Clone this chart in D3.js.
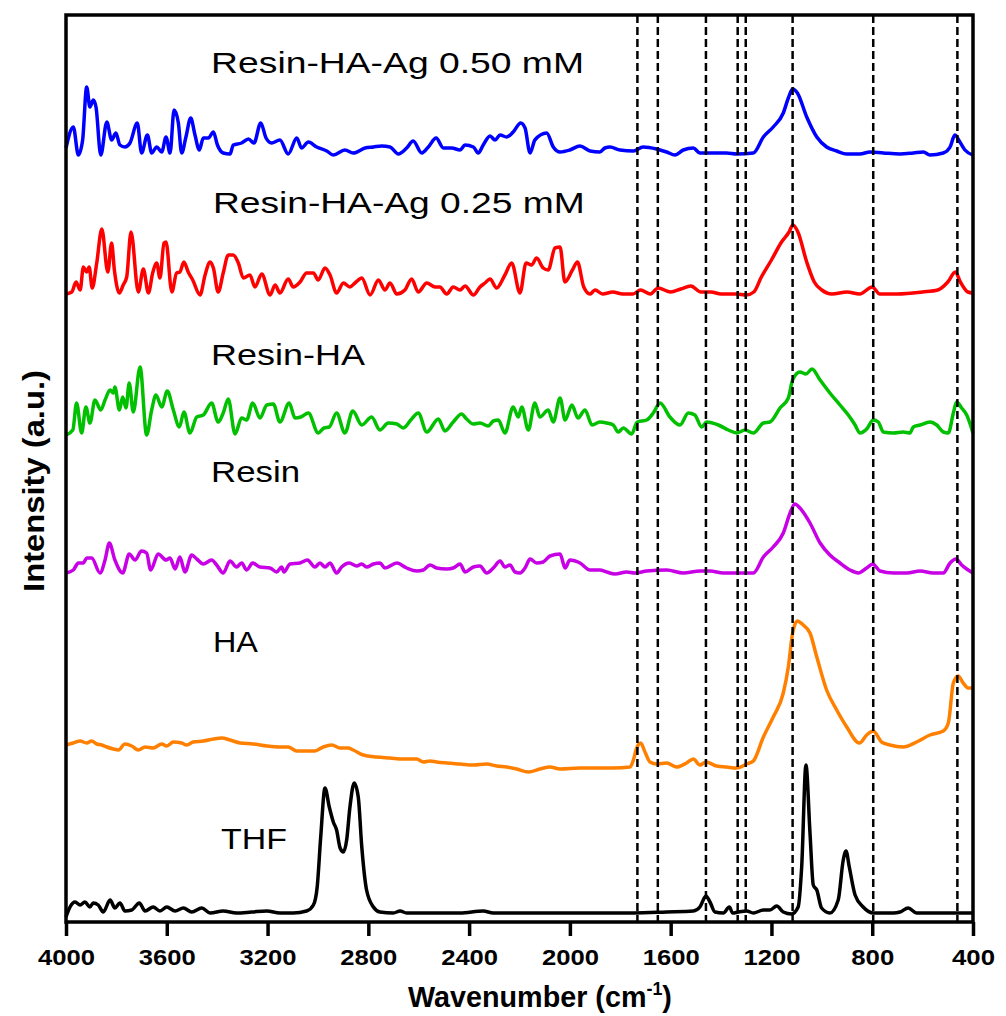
<!DOCTYPE html>
<html>
<head>
<meta charset="utf-8">
<script src="https://cdn.jsdelivr.net/npm/d3@7"></script>
<style>
  body { margin: 0; background: #fff; }
  text { font-family: "Liberation Sans", Arial, Helvetica, sans-serif; }
</style>
</head>
<body>
<svg id="chart" width="1006" height="1016"></svg>
<script>
// x ticks and reference band positions (cm-1)
const xTicks = [4000, 3600, 3200, 2800, 2400, 2000, 1600, 1200, 800, 400];
const peakLines = [1732, 1651, 1460, 1334, 1302, 1116, 796, 462];

// spectra, [wavenumber, intensity (a.u., stacked)]
const ag050 = [[4000,774],[3971,795],[3951,767],[3934,782],[3918,835],[3905,815],[3892,822],[3881,815],[3862,767],[3838,800],[3819,782],[3802,789],[3786,777],[3766,775],[3746,779],[3717,799],[3700,769],[3677,787],[3660,769],[3640,775],[3620,770],[3603,785],[3587,769],[3571,812],[3554,799],[3541,769],[3524,785],[3505,804],[3488,787],[3471,772],[3455,784],[3435,784],[3415,790],[3399,777],[3376,769],[3349,768],[3336,777],[3303,779],[3276,783],[3254,779],[3227,799],[3206,784],[3184,779],[3151,782],[3118,768],[3084,784],[3065,774],[3038,780],[3005,775],[2965,771],[2939,767],[2893,772],[2860,769],[2813,774],[2780,775],[2747,776],[2714,775],[2681,768],[2648,774],[2622,781],[2588,769],[2562,775],[2531,784],[2502,774],[2469,774],[2436,772],[2416,777],[2383,775],[2364,769],[2344,777],[2317,786],[2297,782],[2277,787],[2251,785],[2225,790],[2195,799],[2178,794],[2158,769],[2139,782],[2092,789],[2066,775],[2039,770],[2000,772],[1960,776],[1920,771],[1881,770],[1861,774],[1841,775],[1801,772],[1748,771],[1709,775],[1656,773],[1616,770],[1583,767],[1550,772],[1510,774],[1484,769],[1431,769],[1378,769],[1338,768],[1272,769],[1232,785],[1193,795],[1153,809],[1133,824],[1116,833],[1097,829],[1060,805],[1020,785],[981,775],[941,771],[901,768],[849,768],[809,770],[756,769],[690,768],[637,769],[597,770],[571,767],[518,769],[491,775],[472,787],[452,780],[432,772],[400,767]];

const ag025 = [[4000,628],[3977,630],[3960,640],[3944,632],[3931,655],[3918,650],[3908,655],[3896,634],[3878,659],[3858,693],[3834,650],[3819,679],[3808,652],[3788,629],[3773,637],[3759,645],[3742,690],[3713,630],[3693,653],[3673,629],[3656,649],[3640,659],[3627,644],[3611,679],[3603,680],[3580,630],[3561,649],[3548,650],[3532,660],[3515,650],[3497,642],[3468,627],[3448,647],[3428,660],[3415,654],[3396,630],[3376,649],[3356,667],[3336,667],[3316,659],[3296,644],[3270,647],[3250,635],[3223,648],[3190,627],[3170,637],[3151,629],[3118,643],[3098,635],[3071,640],[3045,649],[3018,649],[2999,642],[2972,654],[2952,647],[2926,629],[2899,639],[2873,635],[2853,639],[2826,644],[2793,627],[2760,642],[2734,632],[2714,639],[2687,628],[2655,632],[2628,643],[2602,630],[2568,639],[2535,635],[2516,635],[2489,628],[2463,635],[2436,632],[2416,636],[2383,627],[2357,635],[2337,639],[2317,643],[2291,634],[2258,647],[2231,659],[2198,629],[2174,659],[2152,657],[2132,664],[2106,654],[2086,652],[2059,674],[2039,675],[2020,640],[1990,652],[1970,660],[1945,635],[1920,628],[1900,632],[1870,628],[1830,630],[1790,628],[1750,628],[1720,632],[1680,628],[1650,634],[1600,630],[1560,633],[1520,636],[1480,630],[1440,630],[1400,628],[1340,628],[1300,627],[1270,630],[1240,645],[1200,662],[1160,680],[1130,690],[1115,697],[1095,690],[1060,660],[1030,640],[1000,632],[960,628],[900,630],[850,628],[800,635],[770,628],[700,628],[600,630],[540,632],[500,640],[470,650],[450,640],[420,630],[400,629]];

const resinHA = [[4000,487],[3973,492],[3958,519],[3938,489],[3921,515],[3905,499],[3885,522],[3862,512],[3845,522],[3825,532],[3812,529],[3806,535],[3788,512],[3775,525],[3762,514],[3749,539],[3733,510],[3706,555],[3680,487],[3660,512],[3643,527],[3620,515],[3598,531],[3574,512],[3550,495],[3532,510],[3508,489],[3481,505],[3455,507],[3422,519],[3396,500],[3376,509],[3356,523],[3329,488],[3303,504],[3283,502],[3259,519],[3230,504],[3203,517],[3177,518],[3151,500],[3114,519],[3091,504],[3068,505],[3038,509],[2999,489],[2976,494],[2955,495],[2926,509],[2893,489],[2862,511],[2826,497],[2787,505],[2754,492],[2721,499],[2687,498],[2661,494],[2628,503],[2602,509],[2568,490],[2522,503],[2496,491],[2463,500],[2430,508],[2410,503],[2383,498],[2357,499],[2324,496],[2304,501],[2284,502],[2258,489],[2225,515],[2205,505],[2191,515],[2165,492],[2139,519],[2119,505],[2086,512],[2066,500],[2039,524],[2019,502],[1992,517],[1968,504],[1940,512],[1912,497],[1881,500],[1854,499],[1828,497],[1808,490],[1788,494],[1755,488],[1733,500],[1695,502],[1669,509],[1642,519],[1603,505],[1563,497],[1530,509],[1504,507],[1477,495],[1457,500],[1411,497],[1371,492],[1338,489],[1305,492],[1272,489],[1232,499],[1206,500],[1166,514],[1133,524],[1116,542],[1087,550],[1063,548],[1039,553],[1007,542],[968,529],[928,517],[895,507],[868,497],[849,489],[822,493],[796,502],[776,500],[756,490],[716,489],[677,490],[650,489],[637,495],[610,497],[571,500],[544,497],[518,490],[498,489],[478,509],[465,520],[445,514],[425,507],[400,489]];

const resin = [[4000,349],[3971,352],[3951,359],[3931,359],[3918,364],[3898,364],[3865,349],[3845,362],[3828,379],[3806,362],[3775,349],[3749,368],[3726,362],[3700,371],[3680,369],[3664,352],[3634,368],[3603,362],[3587,364],[3567,353],[3548,365],[3528,350],[3501,367],[3481,363],[3455,358],[3422,362],[3402,357],[3376,349],[3349,361],[3323,355],[3303,359],[3283,352],[3259,359],[3230,355],[3190,354],[3164,350],[3144,355],[3135,350],[3111,358],[3071,359],[3042,362],[3012,355],[2992,359],[2972,355],[2952,359],[2926,349],[2906,355],[2876,359],[2846,356],[2826,358],[2807,355],[2780,358],[2754,359],[2734,354],[2687,359],[2648,354],[2608,351],[2582,352],[2555,357],[2529,354],[2489,353],[2463,354],[2436,358],[2416,350],[2383,355],[2357,356],[2330,349],[2304,354],[2277,361],[2258,355],[2238,357],[2218,350],[2198,349],[2178,354],[2158,363],[2132,359],[2106,360],[2079,366],[2039,368],[2019,354],[2000,362],[1960,359],[1920,352],[1881,352],[1854,350],[1821,348],[1775,350],[1742,349],[1695,351],[1616,352],[1550,349],[1484,351],[1444,351],[1391,349],[1338,349],[1272,349],[1232,365],[1193,375],[1153,389],[1126,409],[1107,418],[1087,414],[1047,399],[1007,379],[968,367],[928,359],[888,352],[855,349],[822,354],[798,358],[769,351],[716,349],[663,349],[610,351],[558,349],[518,349],[491,359],[468,363],[445,357],[425,353],[400,349]];

const ha = [[4000,177],[3971,179],[3944,181],[3918,179],[3898,181],[3878,178],[3858,177],[3838,175],[3812,173],[3792,172],[3766,178],[3739,176],[3713,172],[3686,175],[3654,174],[3620,178],[3600,176],[3574,180],[3541,179],[3521,177],[3495,180],[3455,181],[3415,183],[3382,184],[3349,182],[3309,179],[3257,178],[3203,176],[3151,175],[3118,175],[3084,171],[3045,171],[3012,171],[2979,175],[2945,177],[2912,174],[2880,174],[2860,172],[2820,167],[2767,165],[2714,164],[2661,163],[2608,163],[2582,160],[2555,161],[2529,160],[2489,159],[2436,158],[2383,157],[2330,158],[2291,156],[2251,155],[2211,153],[2165,150],[2119,153],[2079,155],[2039,153],[1960,154],[1881,154],[1828,154],[1761,155],[1748,162],[1735,174],[1719,179],[1702,170],[1682,160],[1656,158],[1616,159],[1576,155],[1537,159],[1510,163],[1484,157],[1460,160],[1417,156],[1378,155],[1338,154],[1298,158],[1272,161],[1232,185],[1193,205],[1153,229],[1133,255],[1116,289],[1097,301],[1074,297],[1047,289],[1020,265],[981,232],[941,212],[901,195],[851,179],[822,187],[796,191],[763,180],[730,177],[677,175],[624,180],[571,187],[518,191],[498,199],[478,239],[459,246],[439,239],[419,234],[400,234]];

const thf = [[4000,5],[3984,15],[3964,20],[3944,17],[3925,20],[3905,15],[3892,19],[3872,17],[3852,10],[3825,22],[3806,14],[3786,19],[3766,11],[3739,12],[3709,19],[3686,11],[3654,15],[3627,11],[3600,15],[3567,11],[3534,14],[3501,10],[3461,14],[3428,9],[3376,11],[3323,9],[3263,10],[3203,11],[3151,9],[3098,9],[3045,11],[3018,17],[3003,35],[2989,85],[2972,134],[2955,115],[2939,100],[2926,92],[2912,74],[2899,70],[2886,82],[2873,115],[2856,139],[2840,125],[2826,75],[2807,32],[2780,15],[2754,10],[2701,9],[2674,11],[2648,9],[2568,9],[2436,9],[2344,11],[2304,9],[2172,9],[2039,9],[1881,9],[1748,9],[1616,10],[1510,11],[1484,15],[1460,26],[1444,20],[1424,10],[1391,9],[1367,15],[1354,9],[1332,10],[1298,11],[1272,9],[1232,12],[1206,12],[1179,16],[1153,10],[1120,8],[1094,15],[1080,55],[1063,157],[1047,89],[1034,37],[1020,32],[1001,14],[968,9],[935,22],[915,62],[904,71],[891,55],[868,27],[836,15],[796,9],[716,9],[690,10],[657,14],[624,9],[558,9],[478,9],[400,9]];

const series = [
  { name: 'Resin-HA-Ag 0.50 mM', color: '#0000ff', data: ag050 },
  { name: 'Resin-HA-Ag 0.25 mM', color: '#ff0000', data: ag025 },
  { name: 'Resin-HA', color: '#00c000', data: resinHA },
  { name: 'Resin', color: '#c800e6', data: resin },
  { name: 'HA', color: '#ff8000', data: ha },
  { name: 'THF', color: '#000000', data: thf }
];

// label anchors in data units + measured text widths
const labels = [
  { text: 'Resin-HA-Ag 0.50 mM', wn: 3424, at: 849, width: 373 },
  { text: 'Resin-HA-Ag 0.25 mM', wn: 3417, at: 709, width: 372 },
  { text: 'Resin-HA', wn: 3424, at: 557, width: 154 },
  { text: 'Resin', wn: 3424, at: 440, width: 89 },
  { text: 'HA', wn: 3417, at: 270, width: 45 },
  { text: 'THF', wn: 3385, at: 73, width: 66 }
];

const svg = d3.select('#chart');

const x = d3.scaleLinear().domain([4000, 400]).range([66, 973]);
const y = d3.scaleLinear().domain([0, 907]).range([922, 15]);

function fitWidth(sel, width) {
  const w = sel.node().getComputedTextLength();
  sel.attr('transform', `scale(${width / w},1)`);
}

const line = d3.line()
  .x(d => x(d[0]))
  .y(d => y(d[1]))
  .curve(d3.curveMonotoneX);

// traces
svg.append('g')
  .selectAll('path')
  .data(series)
  .enter()
  .append('path')
  .attr('d', d => line(d.data))
  .attr('fill', 'none')
  .attr('stroke', d => d.color)
  .attr('stroke-width', 3.5)
  .attr('stroke-linejoin', 'round');

// dashed reference lines
svg.append('g')
  .selectAll('line')
  .data(peakLines)
  .enter()
  .append('line')
  .attr('x1', d => x(d))
  .attr('x2', d => x(d))
  .attr('y1', y(907))
  .attr('y2', y(0))
  .attr('stroke', '#000')
  .attr('stroke-width', 2.5)
  .attr('stroke-dasharray', '8,4');

// frame
svg.append('rect')
  .attr('x', 66)
  .attr('y', 15)
  .attr('width', 907)
  .attr('height', 907)
  .attr('fill', 'none')
  .attr('stroke', '#000')
  .attr('stroke-width', 3.5);

// x axis
const xAxis = svg.append('g')
  .attr('transform', 'translate(0,922)')
  .call(d3.axisBottom(x).tickValues(xTicks).tickSize(14).tickPadding(13).tickFormat(d3.format('d')));

xAxis.select('.domain').remove();
xAxis.selectAll('.tick line').attr('stroke', '#000').attr('stroke-width', 3.5);
xAxis.selectAll('.tick text')
  .attr('fill', '#000')
  .style('font-size', '22px')
  .style('font-weight', 'bold')
  .each(function (d) {
    fitWidth(d3.select(this), String(d).length === 4 ? 57 : 43);
  });

// series labels
labels.forEach(l => {
  const g = svg.append('g').attr('transform', `translate(${x(l.wn)},${y(l.at)})`);
  const t = g.append('text')
    .attr('fill', '#000')
    .style('font-size', '30px')
    .text(l.text);
  fitWidth(t, l.width);
});

// axis titles
const xt = svg.append('g').attr('transform', 'translate(408,1007)');
const xTitle = xt.append('text')
  .style('font-size', '29px')
  .style('font-weight', 'bold');
xTitle.append('tspan').text('Wavenumber (cm');
xTitle.append('tspan').attr('dy', -12).style('font-size', '18px').text('-1');
xTitle.append('tspan').attr('dy', 12).text(')');
fitWidth(xTitle, 264);

const yt = svg.append('g').attr('transform', 'translate(44,481) rotate(-90)');
const yTitle = yt.append('text')
  .attr('text-anchor', 'middle')
  .style('font-size', '30px')
  .style('font-weight', 'bold')
  .text('Intensity (a.u.)');
const yw = yTitle.node().getComputedTextLength();
yTitle.attr('transform', `scale(${222 / yw},1)`);
</script>
</body>
</html>
